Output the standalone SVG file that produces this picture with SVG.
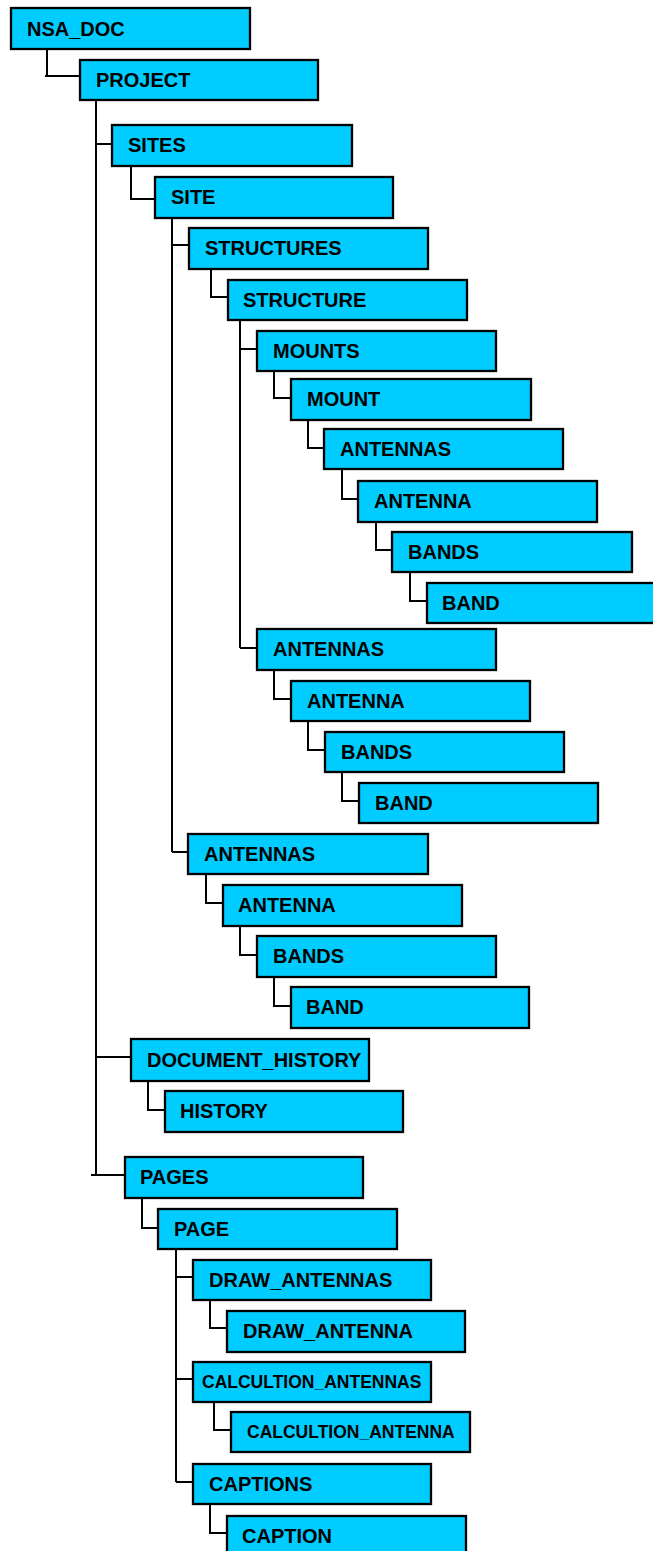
<svg xmlns="http://www.w3.org/2000/svg" width="653" height="1551" viewBox="0 0 653 1551">
<style>
.c{fill:none;stroke:#000;stroke-width:2}
.n rect{fill:#00CCFF;stroke:#000;stroke-width:2.3}
.n text{font-family:"Liberation Sans",Arial,sans-serif;font-weight:bold;font-size:20px;fill:#000}
.n text.s{font-size:17.5px}
</style>
<rect width="653" height="1551" fill="#fff"/>
<g id="connectors" class="c">
<path d="M47,49 V76 M45,76 H80"/>
<path d="M96,100 V1175 M96,144 H112 M96,1057 H131 M91,1175 H125"/>
<path d="M131,166 V199 H155"/>
<path d="M172,218 V852 M172,245 H189 M172,852 H188"/>
<path d="M211,269 V297 H228"/>
<path d="M240,320 V648 M240,349 H257 M240,648 H257"/>
<path d="M274,371 V398 H291"/>
<path d="M308,420 V448 H324"/>
<path d="M342,469 V499 H358"/>
<path d="M376,522 V550 H392"/>
<path d="M410,572 V601 H427"/>
<path d="M274,670 V699 H291"/>
<path d="M308,721 V750 H325"/>
<path d="M342,772 V801 H359"/>
<path d="M206,874 V903 H223"/>
<path d="M240,926 V955 H257"/>
<path d="M274,977 V1006 H291"/>
<path d="M148,1081 V1110 H165"/>
<path d="M142,1198 V1228 H158"/>
<path d="M176,1249 V1482 M176,1277 H193 M176,1379 H193 M176,1482 H193"/>
<path d="M210,1300 V1328 H227"/>
<path d="M214,1402 V1430 H231"/>
<path d="M210,1504 V1533 H227"/>
</g>
<g id="nsa_doc" class="n"><rect x="11" y="8" width="239" height="41"/><text x="27" y="36">NSA_DOC</text></g>
<g id="project" class="n"><rect x="80" y="60" width="238" height="40"/><text x="96" y="87">PROJECT</text></g>
<g id="sites" class="n"><rect x="112" y="125" width="240" height="41"/><text x="128" y="152">SITES</text></g>
<g id="site" class="n"><rect x="155" y="177" width="238" height="41"/><text x="171" y="204">SITE</text></g>
<g id="structures" class="n"><rect x="189" y="228" width="239" height="41"/><text x="205" y="255">STRUCTURES</text></g>
<g id="structure" class="n"><rect x="228" y="280" width="239" height="40"/><text x="243" y="307">STRUCTURE</text></g>
<g id="mounts" class="n"><rect x="257" y="331" width="239" height="40"/><text x="273" y="358">MOUNTS</text></g>
<g id="mount" class="n"><rect x="291" y="379" width="240" height="41"/><text x="307" y="406">MOUNT</text></g>
<g id="antennas1" class="n"><rect x="324" y="429" width="239" height="40"/><text x="340" y="456">ANTENNAS</text></g>
<g id="antenna1" class="n"><rect x="358" y="481" width="239" height="41"/><text x="374" y="508">ANTENNA</text></g>
<g id="bands1" class="n"><rect x="392" y="532" width="240" height="40"/><text x="408" y="559">BANDS</text></g>
<g id="band1" class="n"><rect x="427" y="583" width="239" height="40"/><text x="442" y="610">BAND</text></g>
<g id="antennas2" class="n"><rect x="257" y="629" width="239" height="41"/><text x="273" y="656">ANTENNAS</text></g>
<g id="antenna2" class="n"><rect x="291" y="681" width="239" height="40"/><text x="307" y="708">ANTENNA</text></g>
<g id="bands2" class="n"><rect x="325" y="732" width="239" height="40"/><text x="341" y="759">BANDS</text></g>
<g id="band2" class="n"><rect x="359" y="783" width="239" height="40"/><text x="375" y="810">BAND</text></g>
<g id="antennas3" class="n"><rect x="188" y="834" width="240" height="40"/><text x="204" y="861">ANTENNAS</text></g>
<g id="antenna3" class="n"><rect x="223" y="885" width="239" height="41"/><text x="238" y="912">ANTENNA</text></g>
<g id="bands3" class="n"><rect x="257" y="936" width="239" height="41"/><text x="273" y="963">BANDS</text></g>
<g id="band3" class="n"><rect x="291" y="987" width="238" height="41"/><text x="306" y="1014">BAND</text></g>
<g id="document_history" class="n"><rect x="131" y="1039" width="238" height="42"/><text x="147" y="1067">DOCUMENT_HISTORY</text></g>
<g id="history" class="n"><rect x="165" y="1091" width="238" height="41"/><text x="180" y="1118">HISTORY</text></g>
<g id="pages" class="n"><rect x="125" y="1157" width="238" height="41"/><text x="140" y="1184">PAGES</text></g>
<g id="page" class="n"><rect x="158" y="1209" width="239" height="40"/><text x="174" y="1236">PAGE</text></g>
<g id="draw_antennas" class="n"><rect x="193" y="1260" width="238" height="40"/><text x="209" y="1287">DRAW_ANTENNAS</text></g>
<g id="draw_antenna" class="n"><rect x="227" y="1311" width="238" height="41"/><text x="243" y="1338">DRAW_ANTENNA</text></g>
<g id="calcultion_antennas" class="n"><rect x="193" y="1362" width="238" height="40"/><text class="s" x="202" y="1388">CALCULTION_ANTENNAS</text></g>
<g id="calcultion_antenna" class="n"><rect x="231" y="1412" width="239" height="40"/><text class="s" x="247" y="1438">CALCULTION_ANTENNA</text></g>
<g id="captions" class="n"><rect x="193" y="1464" width="238" height="40"/><text x="209" y="1491">CAPTIONS</text></g>
<g id="caption" class="n"><rect x="227" y="1516" width="239" height="41"/><text x="242" y="1543">CAPTION</text></g>
</svg>
